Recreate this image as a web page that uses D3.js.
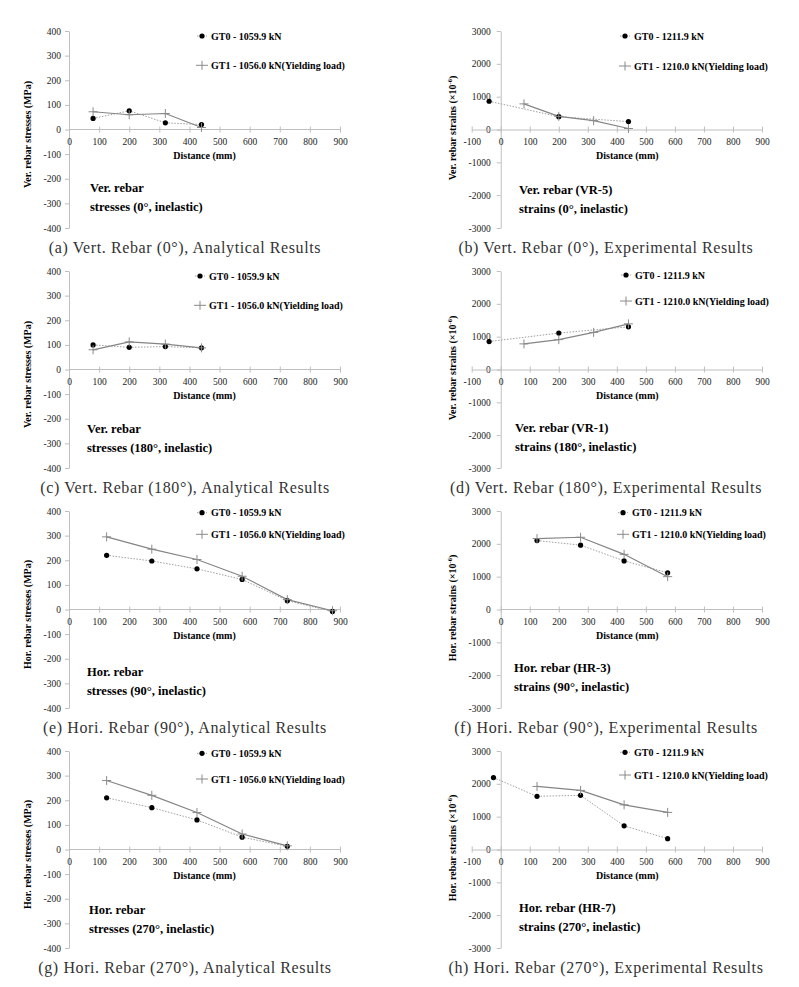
<!DOCTYPE html>
<html>
<head>
<meta charset="utf-8">
<script src="https://cdn.jsdelivr.net/npm/d3@7"></script>
<style>
	body { margin: 0; background: #fff; }
	svg { display: block; }
	text { font-family: "Liberation Serif", "Times New Roman", serif; }
</style>
</head>
<body>
<script>
// distances (mm) of gauge points
const distVert = [80, 200, 320, 440];
const distVertExp0 = [-40, 200, 440];
const distHor6 = [125, 275, 425, 575, 725, 875];
const distHor5 = [125, 275, 425, 575, 725];
const distHor4 = [125, 275, 425, 575];
const distHorExp0 = [-25, 125, 275, 425, 575];

// GT0 / GT1 values
const a0 = [45, 76, 27, 20];
const a1 = [72, 60, 65, 8];
const b0 = [860, 390, 240];
const b1 = [780, 400, 270, 30];
const c0 = [100, 90, 93, 88];
const c1 = [80, 112, 103, 88];
const d0 = [850, 1110, 1300];
const d1 = [780, 910, 1130, 1390];
const e0 = [220, 197, 165, 122, 36, -8];
const e1 = [295, 245, 203, 135, 40, -5];
const f0 = [2100, 1960, 1480, 1120];
const f1 = [2160, 2200, 1680, 1000];
const g0 = [210, 170, 120, 50, 13];
const g1 = [280, 220, 150, 63, 15];
const h0 = [2190, 1620, 1650, 720, 330];
const h1 = [1920, 1800, 1360, 1130];

const stressTicks = [-400, -300, -200, -100, 0, 100, 200, 300, 400];
const strainTicks = [-3000, -2000, -1000, 0, 1000, 2000, 3000];
const distTicks = [0, 100, 200, 300, 400, 500, 600, 700, 800, 900];
const distTicksNeg = [-100, 0, 100, 200, 300, 400, 500, 600, 700, 800, 900];

const legendAnalytic = ['GT0 - 1059.9 kN', 'GT1 - 1056.0 kN(Yielding load)'];
const legendExp = ['GT0 - 1211.9 kN', 'GT1 - 1210.0 kN(Yielding load)'];

const captions = [
	'(a) Vert. Rebar (0°), Analytical Results',
	'(b) Vert. Rebar (0°), Experimental Results',
	'(c) Vert. Rebar (180°), Analytical Results',
	'(d) Vert. Rebar (180°), Experimental Results',
	'(e) Hori. Rebar (90°), Analytical Results',
	'(f) Hori. Rebar (90°), Experimental Results',
	'(g) Hori. Rebar (270°), Analytical Results',
	'(h) Hori. Rebar (270°), Experimental Results'
];
const notes = [
	['Ver. rebar', 'stresses (0°, inelastic)'],
	['Ver. rebar (VR-5)', 'strains (0°, inelastic)'],
	['Ver. rebar', 'stresses (180°, inelastic)'],
	['Ver. rebar (VR-1)', 'strains (180°, inelastic)'],
	['Hor. rebar', 'stresses (90°, inelastic)'],
	['Hor. rebar (HR-3)', 'strains (90°, inelastic)'],
	['Hor. rebar', 'stresses (270°, inelastic)'],
	['Hor. rebar (HR-7)', 'strains (270°, inelastic)']
];

const panels = [
	{ x0: distVert, y0: a0, x1: distVert, y1: a1, exp: false, xt: distTicks, title: 'Ver. rebar stresses (MPa)' },
	{ x0: distVertExp0, y0: b0, x1: distVert, y1: b1, exp: true, xt: distTicksNeg, title: 'Ver. rebar strains' },
	{ x0: distVert, y0: c0, x1: distVert, y1: c1, exp: false, xt: distTicks, title: 'Ver. rebar stresses (MPa)' },
	{ x0: distVertExp0, y0: d0, x1: distVert, y1: d1, exp: true, xt: distTicksNeg, title: 'Ver. rebar strains' },
	{ x0: distHor6, y0: e0, x1: distHor6, y1: e1, exp: false, xt: distTicks, title: 'Hor. rebar stresses (MPa)' },
	{ x0: distHor4, y0: f0, x1: distHor4, y1: f1, exp: true, xt: distTicks, title: 'Hor. rebar strains' },
	{ x0: distHor5, y0: g0, x1: distHor5, y1: g1, exp: false, xt: distTicks, title: 'Hor. rebar stresses (MPa)' },
	{ x0: distHorExp0, y0: h0, x1: distHor4, y1: h1, exp: true, xt: distTicksNeg, title: 'Hor. rebar strains' }
];

// layout (pixels)
const rowTop = [31, 271, 511, 751];
const plotH = 197;
const legendPos = [[202, 36, 65.3], [625, 36, 66], [200, 276, 305.3], [626, 275, 301],
	[202, 512.7, 534.3], [623, 512.7, 534.3], [202, 753.3, 779], [625, 752.3, 775]];
const notePos = [[90, 192], [519, 194], [87, 433], [515, 431.5],
	[87, 675.5], [514, 672], [89, 914], [519, 912]];

const axisColor = '#bfbfbf';
const svg = d3.select('body').append('svg').attr('width', 799).attr('height', 987);

panels.forEach((p, i) => {
	let col = i % 2, row = Math.floor(i / 2);
	let top = rowTop[row];
	let g = svg.append('g');

	let x = col === 0
		? d3.scaleLinear().domain([0, 900]).range([69, 340])
		: d3.scaleLinear().domain([-100, 900]).range([471.7, 762]);
	let y = d3.scaleLinear()
		.domain(p.exp ? [-3000, 3000] : [-400, 400])
		.range([top + plotH, top]);

	// y axis
	let ya = g.append('g')
		.attr('transform', `translate(${x(0)},0)`)
		.call(d3.axisLeft(y).tickValues(p.exp ? strainTicks : stressTicks)
			.tickSize(4).tickSizeOuter(0).tickPadding(p.exp ? 6 : 4).tickFormat(String));

	// x axis
	let xa = g.append('g')
		.attr('transform', `translate(0,${y(0)})`)
		.call(d3.axisBottom(x).tickValues(p.xt).tickSize(3).tickSizeOuter(0).tickFormat(String));
	xa.selectAll('.tick line').attr('y1', -3).attr('y2', 3);
	xa.selectAll('.tick text').attr('y', 9);
	if (p.xt[0] === 0) xa.select('.domain').attr('d', `M${x(0)},0H${x(900)}`);

	[ya, xa].forEach(a => {
		a.attr('font-family', null);
		a.select('.domain').attr('stroke', axisColor);
		a.selectAll('.tick line').attr('stroke', axisColor);
		a.selectAll('.tick text')
			.attr('fill', '#222')
			.style('font-family', '"Liberation Serif", serif')
			.style('font-size', '9.5px');
	});

	// axis titles
	g.append('text')
		.attr('x', (x(0) + x(900)) / 2 + (col === 0 ? 0 : -4))
		.attr('y', y(0) + 29)
		.attr('text-anchor', 'middle')
		.style('font-size', '10px').style('font-weight', 'bold')
		.text('Distance (mm)');

	let yt = g.append('text')
		.attr('transform', `translate(${col === 0 ? 31 : 456},${top + (col === 0 ? 103.5 : 97)}) rotate(-90)`)
		.attr('text-anchor', 'middle')
		.style('font-size', '10px').style('font-weight', 'bold')
		.text(p.title);
	if (p.exp) {
		yt.append('tspan').text(' (×10');
		yt.append('tspan').attr('dy', -4).style('font-size', '6.5px').text('-6');
		yt.append('tspan').attr('dy', 4).text(')');
	}

	// series lines
	let line = (xs, ys) => d3.line()(xs.map((d, k) => [x(d), y(ys[k])]));
	g.append('path').attr('d', line(p.x0, p.y0))
		.attr('fill', 'none').attr('stroke', '#a0a0a0').attr('stroke-width', 1)
		.attr('stroke-dasharray', '1.5 1.5');
	g.append('path').attr('d', line(p.x1, p.y1))
		.attr('fill', 'none').attr('stroke', '#858585').attr('stroke-width', 1.2);

	g.selectAll('circle.gt0')
		.data(p.x0.map((d, k) => [d, p.y0[k]]))
		.join('circle')
		.attr('cx', d => x(d[0])).attr('cy', d => y(d[1]))
		.attr('r', 2.6).attr('fill', '#000');

	g.selectAll('path.gt1')
		.data(p.x1.map((d, k) => [d, p.y1[k]]))
		.join('path')
		.attr('class', 'gt1')
		.attr('d', d => `M${x(d[0]) - 4.5},${y(d[1])}h9M${x(d[0])},${y(d[1]) - 4.5}v9`)
		.attr('stroke', '#8a8a8a').attr('stroke-width', 1);

	// legend
	let [lx, ly0, ly1] = legendPos[i];
	let labels = p.exp ? legendExp : legendAnalytic;
	g.append('path').attr('d', `M${lx - 5},${ly0}h10`)
		.attr('stroke', '#a0a0a0').attr('stroke-dasharray', '1.5 1.5');
	g.append('circle').attr('cx', lx).attr('cy', ly0).attr('r', 2.6).attr('fill', '#000');
	g.append('path').attr('d', `M${lx - 6},${ly1}h12M${lx},${ly1 - 4.5}v9`)
		.attr('stroke', '#8a8a8a');
	[ly0, ly1].forEach((ly, k) => {
		g.append('text')
			.attr('x', lx + 9).attr('y', ly + 3.5)
			.style('font-size', '10px').style('font-weight', 'bold')
			.text(labels[k]);
	});

	// annotation
	let [nx, ny] = notePos[i];
	notes[i].forEach((t, k) => {
		g.append('text')
			.attr('x', nx).attr('y', ny + k * 19)
			.style('font-size', '12.5px').style('font-weight', 'bold')
			.text(t);
	});

	// caption
	g.append('text')
		.attr('x', col === 0 ? 185 : 606)
		.attr('y', top + 222)
		.attr('text-anchor', 'middle')
		.attr('fill', '#333')
		.style('font-size', '16px')
		.style('letter-spacing', '0.6px')
		.text(captions[i]);
});
</script>
</body>
</html>
